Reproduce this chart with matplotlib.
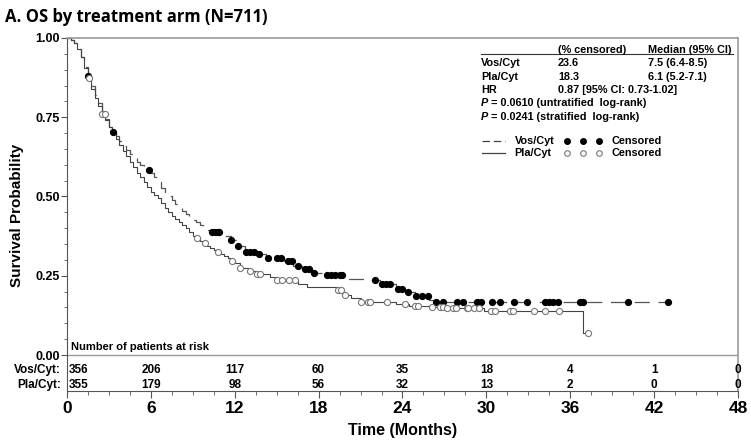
import numpy as np
import matplotlib
matplotlib.use('Agg')
import matplotlib.pyplot as plt
from matplotlib.ticker import MultipleLocator, FixedLocator
from matplotlib.lines import Line2D

plt.rcParams['font.family'] = ['Liberation Sans', 'DejaVu Sans']
plt.rcParams['font.weight'] = 'bold'

# Kaplan-Meier step knots (time in months, survival after step)
vos_t = [0, 0.3, 0.5, 0.75, 1.0, 1.25, 1.5, 1.75, 2.0, 2.25, 2.5, 2.75, 3.0, 3.25, 3.5,
         3.75, 4.0, 4.25, 4.5, 4.75, 5.0, 5.25, 5.5, 5.75, 6.0, 6.25, 6.5, 6.75, 7.0,
         7.25, 7.5, 7.75, 8.0, 8.25, 8.5, 8.75, 9.0, 9.25, 9.5, 9.75, 10.0, 10.4, 11.2,
         11.7, 12.2, 12.7, 13.5, 14.2, 15.5, 16.2, 16.8, 17.5, 18.3, 20.2, 21.5, 22.4,
         23.5, 24.3, 24.9, 25.9, 26.3]
vos_s = [1.0, 0.995, 0.985, 0.965, 0.94, 0.91, 0.88, 0.85, 0.82, 0.795, 0.77, 0.745,
         0.72, 0.705, 0.69, 0.675, 0.66, 0.648, 0.635, 0.622, 0.61, 0.60, 0.59, 0.585,
         0.575, 0.56, 0.545, 0.528, 0.51, 0.50, 0.49, 0.477, 0.465, 0.455, 0.445, 0.435,
         0.425, 0.418, 0.41, 0.40, 0.395, 0.388, 0.375, 0.363, 0.344, 0.325, 0.32, 0.306,
         0.295, 0.28, 0.27, 0.26, 0.252, 0.24, 0.237, 0.225, 0.207, 0.2, 0.185, 0.175,
         0.167]
vos_cens = [1.5, 3.3, 5.9, 10.4, 10.6, 10.8, 10.9, 11.7, 12.2, 12.8, 13.1, 13.4, 13.7,
            14.4, 15.0, 15.3, 15.8, 16.1, 16.5, 17.0, 17.3, 17.7, 18.6, 18.9, 19.2, 19.5,
            19.7, 22.0, 22.5, 22.8, 23.1, 23.7, 24.0, 24.4, 25.0, 25.4, 25.8, 26.4, 26.9,
            27.9, 28.3, 29.3, 29.6, 30.4, 31.0, 32.0, 32.9, 34.2, 34.5, 34.8, 35.1, 36.7,
            36.9, 40.1, 43.0]

pla_t = [0, 0.3, 0.5, 0.75, 1.0, 1.25, 1.5, 1.75, 2.0, 2.25, 2.5, 2.75, 3.0, 3.25, 3.5,
         3.75, 4.0, 4.25, 4.5, 4.75, 5.0, 5.25, 5.5, 5.75, 6.0, 6.25, 6.5, 6.75, 7.0,
         7.25, 7.5, 7.75, 8.0, 8.25, 8.5, 8.75, 9.0, 9.25, 9.5, 9.75, 10.0, 10.25, 10.5,
         10.75, 11.0, 11.25, 11.5, 11.75, 12.0, 12.4, 13.0, 13.6, 14.5, 15.0, 16.5, 17.2,
         19.3, 19.7, 20.3, 21.0, 23.5, 24.5, 26.0, 27.0, 29.8, 36.9]
pla_s = [1.0, 0.995, 0.985, 0.965, 0.94, 0.905, 0.875, 0.84, 0.81, 0.785, 0.76, 0.74,
         0.72, 0.70, 0.68, 0.662, 0.645, 0.628, 0.61, 0.592, 0.575, 0.56, 0.545, 0.53,
         0.515, 0.505, 0.495, 0.48, 0.465, 0.452, 0.44, 0.43, 0.42, 0.41, 0.40, 0.388,
         0.375, 0.368, 0.36, 0.352, 0.345, 0.338, 0.33, 0.325, 0.32, 0.312, 0.305, 0.298,
         0.29, 0.275, 0.265, 0.255, 0.245, 0.238, 0.225, 0.215, 0.205, 0.19, 0.18, 0.167,
         0.16, 0.155, 0.15, 0.148, 0.139, 0.069]
pla_cens = [1.6, 2.5, 2.7, 9.3, 9.9, 10.8, 11.8, 12.4, 13.1, 13.6, 13.8, 15.0, 15.4,
            15.9, 16.3, 19.4, 19.6, 19.9, 21.0, 21.5, 21.7, 22.9, 24.2, 24.9, 25.1, 26.1,
            26.7, 26.9, 27.2, 27.6, 27.8, 28.6, 28.7, 29.1, 29.5, 30.3, 30.6, 31.7, 31.9,
            33.4, 34.2, 35.2, 37.3]

risk_times = [0, 6, 12, 18, 24, 30, 36, 42, 48]
vos_risk = [356, 206, 117, 60, 35, 18, 4, 1, 0]
pla_risk = [355, 179, 98, 56, 32, 13, 2, 0, 0]


def step_at(times, surv, t):
    idx = np.searchsorted(times, t, side='right') - 1
    return np.asarray(surv)[idx]


W, H = 751, 443
fig = plt.figure(figsize=(W / 100, H / 100), dpi=100)
ax = fig.add_axes([67 / W, 1 - 391 / H, (738 - 67) / W, (391 - 38) / H])

def fx(px):
    return px / W

def fy(py):
    return 1 - py / H

# curves
ax.plot(list(vos_t) + [vos_cens[-1]], list(vos_s) + [vos_s[-1]], drawstyle='steps-post',
        color='#555555', lw=0.9, dashes=(12, 7))
ax.plot(list(pla_t) + [pla_cens[-1]], list(pla_s) + [pla_s[-1]], drawstyle='steps-post',
        color='#444444', lw=0.8)
ax.plot(vos_cens, step_at(vos_t, vos_s, vos_cens), 'o', ms=4.2, color='black',
        mec='black', zorder=3)
ax.plot(pla_cens, step_at(pla_t, pla_s, pla_cens), 'o', ms=4.4, mfc='white',
        mec='#777777', mew=0.8, zorder=3)

ax.set_xlim(0, 48)
ax.set_ylim(-36 / 317, 1.0)
ax.axhline(0, color='#999999', lw=1.0)

ax.xaxis.set_major_locator(MultipleLocator(6))
ax.xaxis.set_minor_locator(MultipleLocator(1.5))
ax.set_yticks([0, 0.25, 0.5, 0.75, 1.0])
ax.set_yticklabels(['0.00', '0.25', '0.50', '0.75', '1.00'])
ax.yaxis.set_minor_locator(FixedLocator(np.arange(0, 1.001, 0.05)))
ax.tick_params(axis='x', which='major', length=5, labelsize=12.5, pad=2, color='#555555')
ax.tick_params(axis='x', which='minor', length=3, color='#555555')
ax.tick_params(axis='y', which='major', length=4, labelsize=9, pad=1, color='#555555')
ax.tick_params(axis='y', which='minor', length=2, color='#555555')
for lab in ax.get_xticklabels() + ax.get_yticklabels():
    lab.set_fontweight('bold')

for side in ['left', 'bottom']:
    ax.spines[side].set_color('#555555')
for side in ['top', 'right']:
    ax.spines[side].set_color('#999999')
    ax.spines[side].set_linewidth(1.2)

ax.set_xlabel('Time (Months)', fontsize=11.5, fontweight='bold', labelpad=5)
fig.text(fx(17), fy(215), 'Survival Probability', rotation=90, fontsize=11,
         fontweight='bold', ha='center', va='center')

# risk table
ax.text(0.3, 0.008, 'Number of patients at risk', fontsize=8, fontweight='bold',
        va='bottom', ha='left')
for t, v, p in zip(risk_times, vos_risk, pla_risk):
    ha = 'left' if t == 0 else 'center'
    xt = 0.1 if t == 0 else t
    ax.text(xt, -0.047, str(v), fontsize=8.5, fontweight='bold', ha=ha, va='center')
    ax.text(xt, -0.094, str(p), fontsize=8.5, fontweight='bold', ha=ha, va='center')
fig.text(fx(61), fy(370), 'Vos/Cyt:', fontsize=8.5, fontweight='bold', ha='right', va='center')
fig.text(fx(61), fy(385), 'Pla/Cyt:', fontsize=8.5, fontweight='bold', ha='right', va='center')

# title
fig.text(fx(5), fy(17), 'A. OS by treatment arm (N=711)', fontsize=12,
         fontweight='bold', family='Open Sans', ha='left', va='center')

# statistics box
fs = 7.8
fig.text(fx(558), fy(50), '(% censored)', fontsize=fs, ha='left', va='center')
fig.text(fx(648), fy(50), 'Median (95% CI)', fontsize=fs, ha='left', va='center')
fig.add_artist(Line2D([fx(481), fx(733)], [fy(54), fy(54)], color='#333333', lw=0.8))
rows = [('Vos/Cyt', '23.6', '7.5 (6.4-8.5)', 63),
        ('Pla/Cyt', '18.3', '6.1 (5.2-7.1)', 77)]
for name, cens, med, py in rows:
    fig.text(fx(481), fy(py), name, fontsize=fs, ha='left', va='center')
    fig.text(fx(558), fy(py), cens, fontsize=fs, ha='left', va='center')
    fig.text(fx(648), fy(py), med, fontsize=fs, ha='left', va='center')
fig.text(fx(481), fy(90), 'HR', fontsize=fs, ha='left', va='center')
fig.text(fx(558), fy(90), '0.87 [95% CI: 0.73-1.02]', fontsize=fs, ha='left', va='center')
for py, txt in [(103, '= 0.0610 (untratified  log-rank)'),
                (117, '= 0.0241 (stratified  log-rank)')]:
    fig.text(fx(481), fy(py), 'P', fontsize=fs, style='italic', ha='left', va='center')
    fig.text(fx(491), fy(py), txt, fontsize=fs, ha='left', va='center')

# legend
fig.add_artist(Line2D([fx(482), fx(505)], [fy(141), fy(141)], color='#444444', lw=0.9,
                      dashes=(6, 3)))
fig.add_artist(Line2D([fx(482), fx(505)], [fy(153), fy(153)], color='#444444', lw=0.9))
fig.text(fx(515), fy(141), 'Vos/Cyt', fontsize=fs, ha='left', va='center')
fig.text(fx(514), fy(153), 'Pla/Cyt', fontsize=fs, ha='left', va='center')
for px in [567, 583, 599]:
    fig.add_artist(Line2D([fx(px)], [fy(141)], marker='o', ms=4, color='black'))
    fig.add_artist(Line2D([fx(px)], [fy(153)], marker='o', ms=4, mfc='white',
                          mec='#777777', mew=0.8))
fig.text(fx(612), fy(141), 'Censored', fontsize=fs, ha='left', va='center')
fig.text(fx(612), fy(153), 'Censored', fontsize=fs, ha='left', va='center')

fig.savefig('out.png', dpi=100)
